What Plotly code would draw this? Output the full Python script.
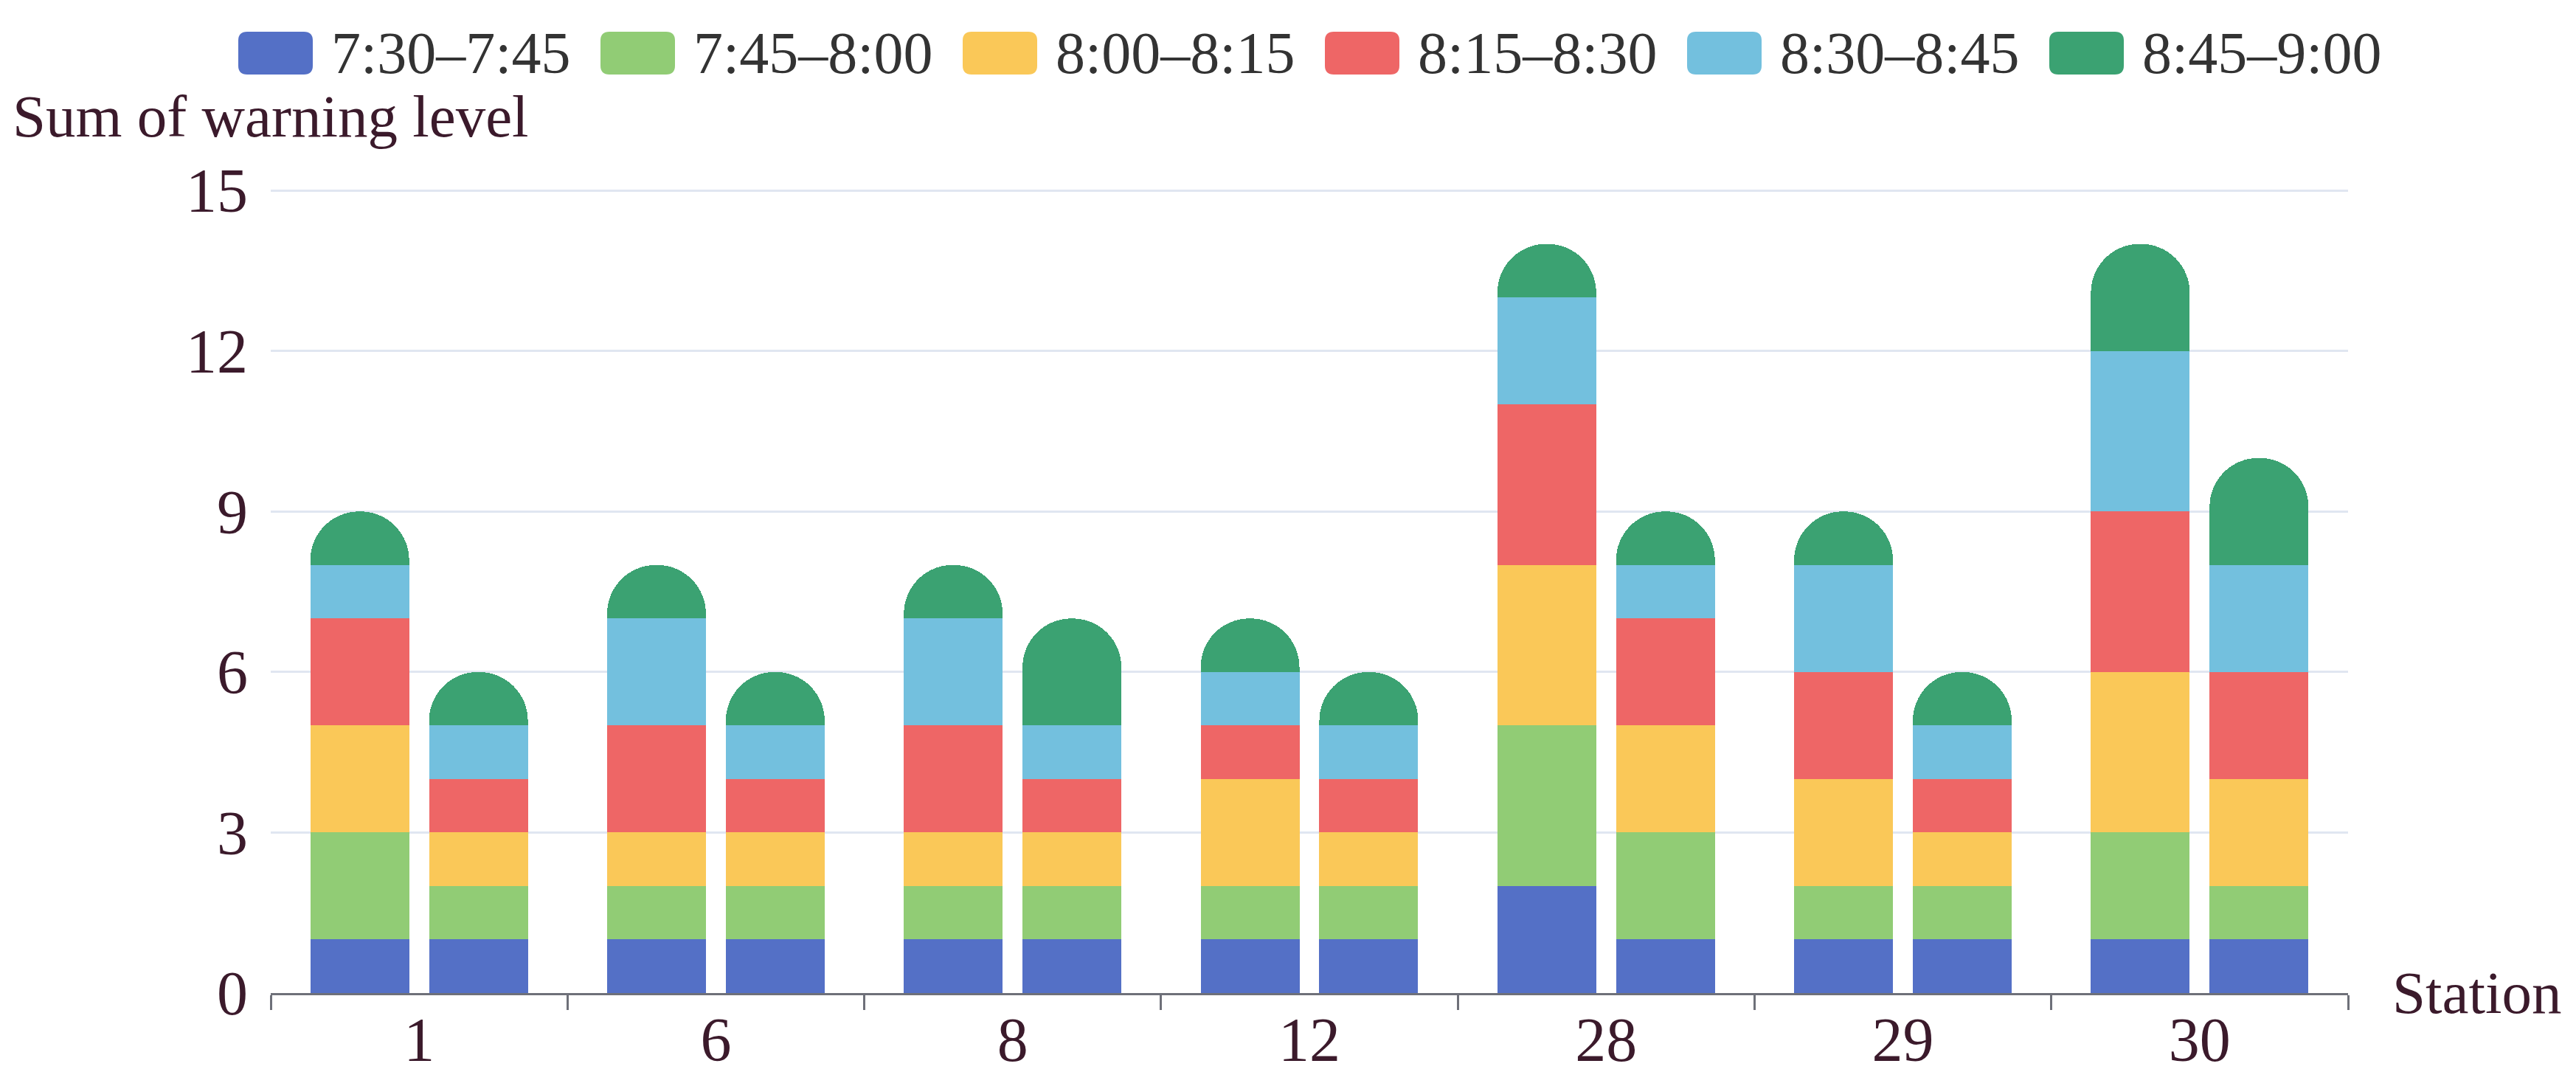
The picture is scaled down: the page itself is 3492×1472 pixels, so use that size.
import plotly.graph_objects as go

# ---------------- data ----------------
stations = ["1", "6", "8", "12", "28", "29", "30"]
periods = ["7:30–7:45", "7:45–8:00", "8:00–8:15", "8:15–8:30", "8:30–8:45", "8:45–9:00"]
colors = ["#5470c6", "#91cc75", "#fac858", "#ee6666", "#73c0de", "#3ba272"]

# first (left) bar of each station, one list per period
left_730 = [1, 1, 1, 1, 2, 1, 1]
left_745 = [2, 1, 1, 1, 3, 1, 2]
left_800 = [2, 1, 1, 2, 3, 2, 3]
left_815 = [2, 2, 2, 1, 3, 2, 3]
left_830 = [1, 2, 2, 1, 2, 2, 3]
left_845 = [1, 1, 1, 1, 1, 1, 2]

# second (right) bar of each station
right_730 = [1, 1, 1, 1, 1, 1, 1]
right_745 = [1, 1, 1, 1, 2, 1, 1]
right_800 = [1, 1, 1, 1, 2, 1, 2]
right_815 = [1, 1, 1, 1, 2, 1, 2]
right_830 = [1, 1, 1, 1, 1, 1, 2]
right_845 = [1, 1, 2, 1, 1, 1, 2]

left_series = [left_730, left_745, left_800, left_815, left_830, left_845]
right_series = [right_730, right_745, right_800, right_815, right_830, right_845]

y_ticks = [0, 3, 6, 9, 12, 15]

# ---------------- layout constants ----------------
W, H = 3492, 1472
L, R, T, B = 367, 309, 257, 126
PW, PH = W - L - R, H - T - B
SERIF = "Liberation Serif, Times New Roman, serif"
TXT = "#3b1a2b"
BAR_W = 0.333
GAP = 0.067


def px_x(x):
    return (x - L) / PW


def px_y(y):
    return (H - B - y) / PH


fig = go.Figure()

for name, col, vals in zip(periods, colors, left_series):
    fig.add_trace(go.Bar(
        x=stations, y=vals, name=name, xaxis="x", yaxis="y",
        marker=dict(color=col, line=dict(width=0)),
        width=BAR_W, offset=-GAP / 2 - BAR_W, showlegend=False,
    ))
for name, col, vals in zip(periods, colors, right_series):
    fig.add_trace(go.Bar(
        x=stations, y=vals, name=name, xaxis="x2", yaxis="y",
        marker=dict(color=col, line=dict(width=0)),
        width=BAR_W, offset=GAP / 2, showlegend=False,
    ))

# custom legend (rounded swatches + labels)
sw_w, sw_h, rr = 101, 58, 12
hw, hh = sw_w / 2, sw_h / 2
swatch_path = (
    f"M {-hw + rr},{-hh} L {hw - rr},{-hh} Q {hw},{-hh} {hw},{-hh + rr} "
    f"L {hw},{hh - rr} Q {hw},{hh} {hw - rr},{hh} L {-hw + rr},{hh} "
    f"Q {-hw},{hh} {-hw},{hh - rr} L {-hw},{-hh + rr} Q {-hw},{-hh} {-hw + rr},{-hh} Z"
)
shapes = []
annotations = []
leg_x0, leg_step, leg_y = 323, 491, 72
for k, (name, col) in enumerate(zip(periods, colors)):
    cx = leg_x0 + k * leg_step + sw_w / 2
    shapes.append(dict(
        type="path", xref="paper", yref="paper",
        xsizemode="pixel", ysizemode="pixel",
        xanchor=px_x(cx), yanchor=px_y(leg_y),
        path=swatch_path, fillcolor=col, line=dict(width=0),
    ))
    annotations.append(dict(
        text=name, xref="paper", yref="paper",
        x=px_x(leg_x0 + k * leg_step + 124), y=px_y(leg_y),
        xanchor="left", yanchor="middle", showarrow=False,
        font=dict(family=SERIF, size=80, color="#333333"),
    ))

annotations.append(dict(
    text="Sum of warning level", xref="paper", yref="paper",
    x=px_x(15), y=px_y(158), xanchor="left", yanchor="middle", showarrow=False,
    font=dict(family=SERIF, size=81, color=TXT),
))
annotations.append(dict(
    text="Station", xref="paper", yref="paper",
    x=px_x(3241), y=0, yshift=0, xanchor="left", yanchor="middle", showarrow=False,
    font=dict(family=SERIF, size=81, color=TXT),
))

fig.update_layout(
    width=W, height=H,
    margin=dict(l=L, r=R, t=T, b=B, pad=0),
    paper_bgcolor="white", plot_bgcolor="white",
    barmode="stack",
    barcornerradius="50%",
    showlegend=False,
    shapes=shapes,
    annotations=annotations,
    xaxis=dict(
        type="category", categoryorder="array", categoryarray=stations,
        showline=True, linecolor="#6E7079", linewidth=3,
        ticks="outside", tickson="boundaries", ticklen=20, tickwidth=3, tickcolor="#6E7079",
        showgrid=False, zeroline=False,
        tickfont=dict(family=SERIF, size=84, color=TXT),
        ticklabelstandoff=-12,
    ),
    xaxis2=dict(
        type="category", categoryorder="array", categoryarray=stations,
        overlaying="x", matches="x", visible=False,
    ),
    yaxis=dict(
        range=[0, 15.015], tickmode="array", tickvals=y_ticks,
        showline=False, zeroline=False, ticks="",
        showgrid=True, gridcolor="#E0E6F1", gridwidth=2.5,
        tickfont=dict(family=SERIF, size=84, color=TXT),
        ticklabelstandoff=30,
    ),
)

fig.write_html("out.html", config={"displayModeBar": False},
               post_script="document.body.style.margin='0';")
